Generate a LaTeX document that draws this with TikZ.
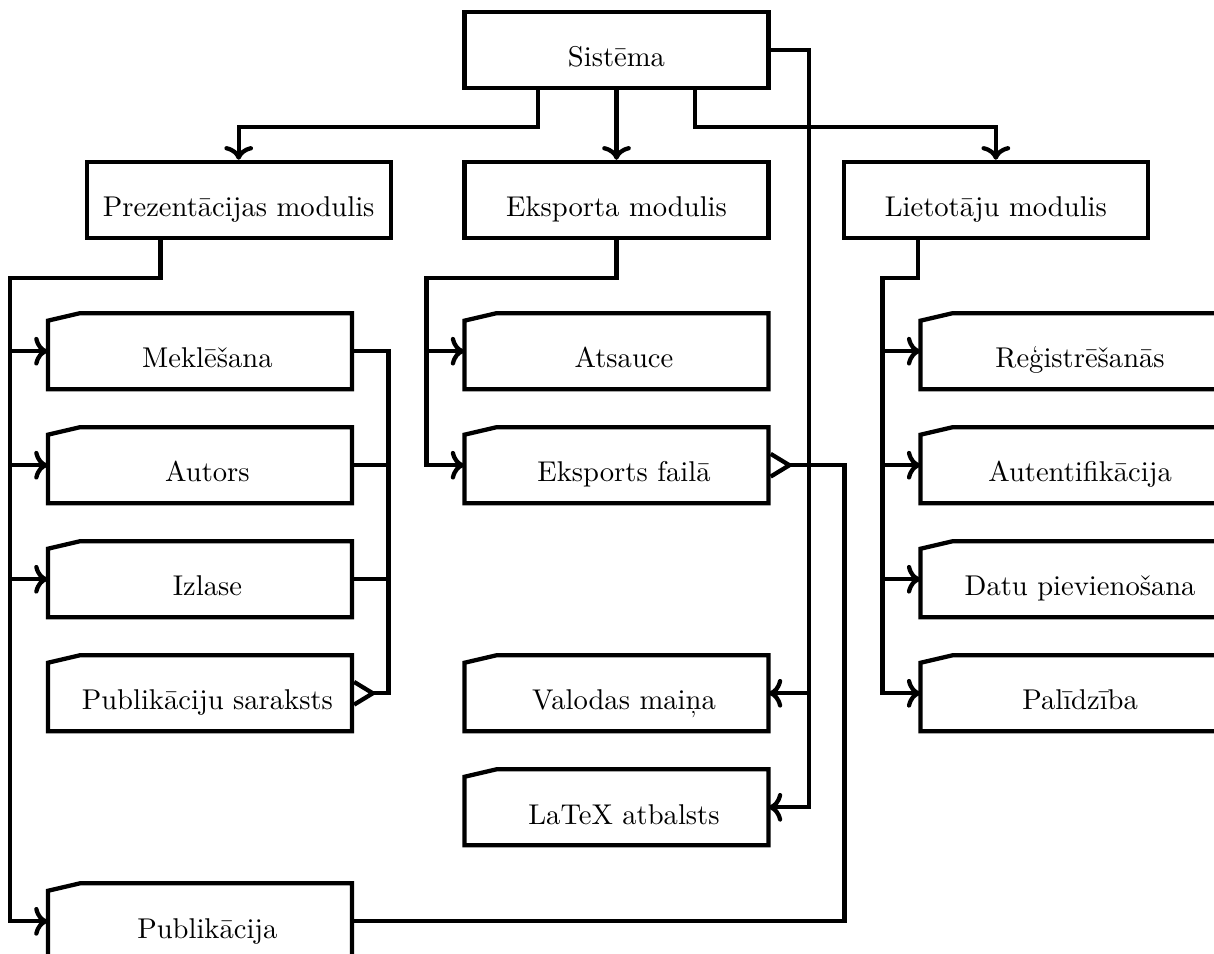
\documentclass[tikz,border=0pt]{standalone}
\usepackage{fontspec}
\usetikzlibrary{arrows.meta}

\begin{document}
\begin{tikzpicture}[
    ultra thick,
    font=\fontsize{10.7}{13}\selectfont,
    box/.style={draw, rectangle, minimum width=4cm, minimum height=1cm,
        text height=13pt, text depth=0.5pt},
    card/.style={box, draw=none, inner xsep=0pt, outer sep=0pt,
        execute at begin node={\hspace*{5.6pt}}},
    crow/.style={-{Straight Barb[reversed, length=7pt, width=8.5pt]}}
]
\useasboundingbox (0.0, 0.0) rectangle (15.97, -12.54);

\node[box] (sys) at (8.11, -0.66) {Sistēma};
\node[box] (prez) at (3.14, -2.63) {Prezentācijas modulis};
\node[box] (eksp) at (8.11, -2.63) {Eksporta modulis};
\node[box] (liet) at (13.1, -2.63) {Lietotāju modulis};

\node[card] (mekl) at (2.63, -4.62) {Meklēšana};
\node[card] (autors) at (2.63, -6.12) {Autors};
\node[card] (izlase) at (2.63, -7.62) {Izlase};
\node[card] (publsar) at (2.63, -9.12) {Publikāciju saraksts};
\node[card] (publ) at (2.63, -12.12) {Publikācija};

\node[card] (atsauce) at (8.11, -4.62) {Atsauce};
\node[card] (eksfail) at (8.11, -6.12) {Eksports failā};
\node[card] (valoda) at (8.11, -9.12) {Valodas maiņa};
\node[card] (latex) at (8.11, -10.62) {LaTeX atbalsts};

\node[card] (regis) at (14.11, -4.62) {Reģistrēšanās};
\node[card] (autent) at (14.11, -6.12) {Autentifikācija};
\node[card] (datu) at (14.11, -7.62) {Datu pievienošana};
\node[card] (palidz) at (14.11, -9.12) {Palīdzība};

% card outlines with the cut corner
\foreach \n in {mekl, autors, izlase, publsar, publ, atsauce, eksfail, valoda, latex,
        regis, autent, datu, palidz}
    \draw ([yshift=-2.8pt]\n.north west) -- ([xshift=12pt]\n.north west)
        -- (\n.north east) -- (\n.south east) -- (\n.south west) -- cycle;

\draw[->] ([xshift=1cm]sys.south west) -- ++(0, -0.48) -| (prez.north);
\draw[->] (sys.south) -- (eksp.north);
\draw[->] ([xshift=-1cm]sys.south east) -- ++(0, -0.48) -| (liet.north);
\draw[->] (sys.east) -- ++(0.5, 0) |- (latex.east);
\draw[->] ([xshift=0.5cm]valoda.east) -- (valoda.east);

\draw[->] ([xshift=1cm]prez.south west) -- ++(0, -0.5) -| ([xshift=-0.5cm]publ.west) -- (publ.west);
\foreach \n in {mekl, autors, izlase}
    \draw[->] ([xshift=-0.5cm]\n.west) -- (\n.west);

\draw[->] (eksp.south) -- ++(0, -0.5) -| ([xshift=-0.5cm]eksfail.west) -- (eksfail.west);
\draw[->] ([xshift=-0.5cm]atsauce.west) -- (atsauce.west);

\draw[->] ([xshift=1cm]liet.south west) -- ++(0, -0.5) -| ([xshift=-0.5cm]palidz.west) -- (palidz.west);
\foreach \n in {regis, autent, datu}
    \draw[->] ([xshift=-0.5cm]\n.west) -- (\n.west);

\draw[crow] (mekl.east) -- ++(0.48, 0) |- (publsar.east);
\draw (autors.east) -- ++(0.48, 0);
\draw (izlase.east) -- ++(0.48, 0);

\draw[crow] (publ.east) -| ([xshift=1cm]eksfail.east) -- (eksfail.east);
\end{tikzpicture}
\end{document}
